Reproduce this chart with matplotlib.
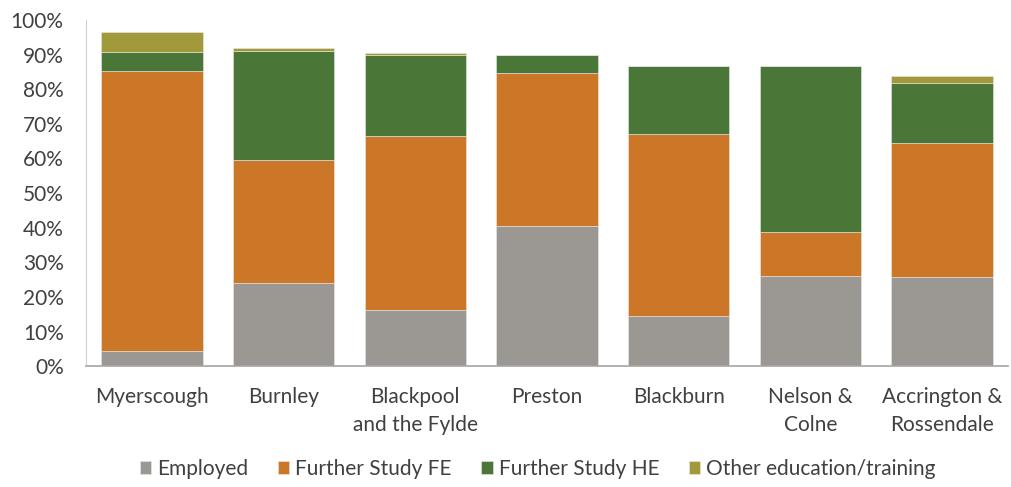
import matplotlib.pyplot as plt
import numpy as np

colleges = ["Myerscough", "Burnley", "Blackpool\nand the Fylde", "Preston",
            "Blackburn", "Nelson &\nColne", "Accrington &\nRossendale"]
employed = [4.3, 23.9, 16.2, 40.5, 14.5, 26.2, 25.9]
further_fe = [81.0, 35.8, 50.4, 44.2, 52.6, 12.6, 38.7]
further_he = [5.5, 31.4, 23.3, 5.1, 19.5, 47.8, 17.2]
other_edu = [5.7, 0.9, 0.6, 0.0, 0.0, 0.0, 2.1]

series = [("Employed", employed, "#9b9893"),
          ("Further Study FE", further_fe, "#cc7628"),
          ("Further Study HE", further_he, "#4a7638"),
          ("Other education/training", other_edu, "#a29a3a")]

plt.rcParams['font.family'] = ['Lato', 'DejaVu Sans']

fig = plt.figure(figsize=(10.11, 4.87), dpi=100)
ax = fig.add_axes([0.085, 0.248, 0.912, 0.711])

x = np.arange(len(colleges))
bottom = np.zeros(len(colleges))
for name, vals, col in series:
    vals = np.array(vals)
    ax.bar(x, vals, 0.77, bottom=bottom, color=col, label=name,
           edgecolor="#e8e8e8", linewidth=0.4)
    bottom += vals

ax.set_xlim(-0.5, len(colleges) - 0.5)
ax.set_ylim(0, 100)
ax.set_yticks(range(0, 101, 10))
ax.set_yticklabels([f"{v}%" for v in range(0, 101, 10)])
ax.set_xticks(x)
ax.set_xticklabels(colleges, linespacing=1.5, va="top")
ax.tick_params(axis="both", length=0, colors="#404040")
ax.tick_params(axis="x", pad=15, labelsize=15)
ax.tick_params(axis="y", pad=16, labelsize=15)

for s in ["top", "right"]:
    ax.spines[s].set_visible(False)
ax.spines["left"].set_color("#d0d0d0")
ax.spines["bottom"].set_color("#a6a6a6")
ax.spines["bottom"].set_linewidth(1.2)

ax.legend(loc="center", bbox_to_anchor=(0.49, -0.296), ncol=4,
          frameon=False, fontsize=15, handlelength=0.55, handleheight=0.55,
          handletextpad=0.3, columnspacing=1.4, labelcolor="#404040")

fig.savefig("out.png", dpi=100)
